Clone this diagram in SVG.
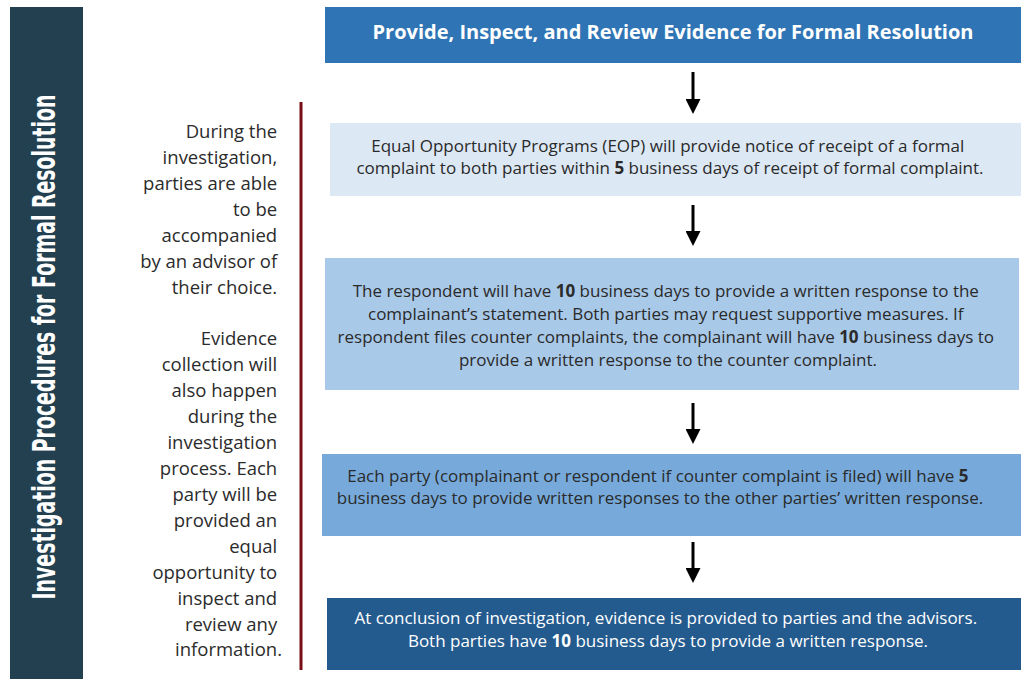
<svg xmlns="http://www.w3.org/2000/svg" width="1022" height="679" viewBox="0 0 1022 679">
<defs>
<style>
.side{font-family:"Open Sans",Lato,"Liberation Sans",sans-serif;font-size:18.5px;fill:#2b2b2b;text-anchor:end}
.bt{font-family:"Open Sans",Lato,"Liberation Sans",sans-serif;font-size:17px;fill:#2a2a2a;text-anchor:middle}
.hd{font-family:"Open Sans",Lato,"Liberation Sans",sans-serif;font-size:20px;font-weight:bold;fill:#ffffff;text-anchor:middle}
.wt{fill:#ffffff}
.b{font-weight:bold}
.conn{stroke:#000;stroke-width:3;fill:none}
</style>
<marker id="ah" markerWidth="6" markerHeight="5" refX="0" refY="2.5" orient="auto" markerUnits="strokeWidth">
<path d="M0,0 L5,2.5 L0,5 Z" fill="#000"/>
</marker>
</defs>
<rect width="1022" height="679" fill="#ffffff"/>

<g id="title-bar">
<rect x="10" y="7" width="73" height="672" fill="#22404f"/>
<text transform="translate(55,347) rotate(-90)" text-anchor="middle" font-family="'DejaVu Sans',sans-serif" font-weight="bold" font-size="32" fill="#ffffff" textLength="505" lengthAdjust="spacingAndGlyphs">Investigation Procedures for Formal Resolution</text>
</g>

<g id="side-note">
<line x1="301" y1="102" x2="301" y2="670" stroke="#7a0c16" stroke-width="3"/>
<text class="side">
<tspan x="282" y="138">During the</tspan>
<tspan x="282" y="164">investigation,</tspan>
<tspan x="282" y="190">parties are able</tspan>
<tspan x="282" y="216">to be</tspan>
<tspan x="282" y="242">accompanied</tspan>
<tspan x="282" y="268">by an advisor of</tspan>
<tspan x="282" y="294">their choice.</tspan>
<tspan x="282" y="345">Evidence</tspan>
<tspan x="282" y="371">collection will</tspan>
<tspan x="282" y="397">also happen</tspan>
<tspan x="282" y="423">during the</tspan>
<tspan x="282" y="449">investigation</tspan>
<tspan x="282" y="475">process. Each</tspan>
<tspan x="282" y="501">party will be</tspan>
<tspan x="282" y="527">provided an</tspan>
<tspan x="282" y="553">equal</tspan>
<tspan x="282" y="579">opportunity to</tspan>
<tspan x="282" y="605">inspect and</tspan>
<tspan x="282" y="631">review any</tspan>
<tspan x="282" y="656">information.</tspan>
</text>
</g>

<g id="header">
<rect x="325" y="7" width="696" height="56" fill="#2f75b5"/>
<text x="673" y="39" class="hd">Provide, Inspect, and Review Evidence for Formal Resolution</text>
</g>

<g id="step-notice">
<rect x="330" y="123" width="691" height="73" fill="#dce8f4"/>
<text class="bt">
<tspan x="670" y="152">Equal Opportunity Programs (EOP) will provide notice of receipt of a formal</tspan>
<tspan x="670" y="174">complaint to both parties within <tspan class="b">5</tspan> business days of receipt of formal complaint.</tspan>
</text>
</g>

<g id="step-response">
<rect x="325" y="258" width="694" height="132" fill="#a9c9e8"/>
<text class="bt">
<tspan x="668" y="297">The respondent will have <tspan class="b">10</tspan> business days to provide a written response to the</tspan>
<tspan x="668" y="320">complainant’s statement.  Both parties may request supportive measures. If</tspan>
<tspan x="668" y="343">respondent files counter complaints, the complainant will have <tspan class="b">10</tspan> business days to</tspan>
<tspan x="668" y="366">provide a written response to the counter complaint.</tspan>
</text>
</g>

<g id="step-counter">
<rect x="322" y="454" width="699" height="82" fill="#77aadb"/>
<text class="bt">
<tspan x="660" y="482">Each party (complainant or respondent if counter complaint is filed) will have <tspan class="b">5</tspan></tspan>
<tspan x="660" y="504">business days to provide written responses to the other parties’ written response.</tspan>
</text>
</g>

<g id="step-conclusion">
<rect x="327" y="598" width="694" height="72" fill="#245b8e"/>
<text class="bt wt">
<tspan x="668" y="624">At conclusion of investigation, evidence is provided to parties and the advisors.</tspan>
<tspan x="668" y="647">Both parties have <tspan class="b">10</tspan> business days to provide a written response.</tspan>
</text>
</g>

<g id="connectors">
<line class="conn" x1="693" y1="72" x2="693" y2="99" marker-end="url(#ah)"/>
<line class="conn" x1="693" y1="205" x2="693" y2="231" marker-end="url(#ah)"/>
<line class="conn" x1="693" y1="403" x2="693" y2="429" marker-end="url(#ah)"/>
<line class="conn" x1="693" y1="542" x2="693" y2="568" marker-end="url(#ah)"/>
</g>
</svg>
